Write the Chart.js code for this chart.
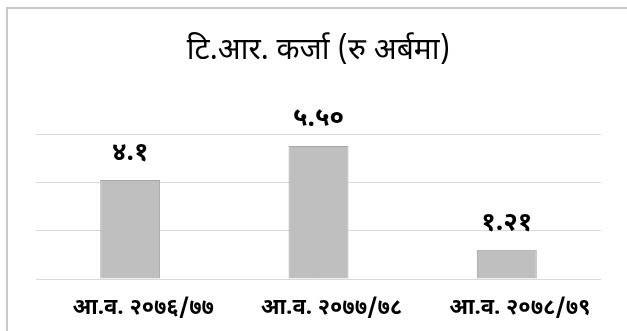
<!DOCTYPE html>
<html>
<head>
<meta charset="utf-8">
<script src="https://cdn.jsdelivr.net/npm/chart.js@4/dist/chart.umd.min.js"></script>
<style>
  html, body { margin: 0; padding: 0; background: #fff; overflow: hidden; width: 627px; height: 331px; }
  #frame { position: absolute; left: 6px; top: 7px; width: 700px; height: 400px; border: 2px solid #c8c8c8; box-sizing: border-box; }
  #wrap { position: absolute; left: 0; top: 0; width: 627px; height: 331px; }
</style>
</head>
<body>
<div id="frame"></div>
<div id="wrap"><canvas id="c" width="627" height="331"></canvas></div>
<script>
const categories = ["आ.व. २०७६/७७", "आ.व. २०७७/७८", "आ.व. २०७८/७९"];
const values = [4.1, 5.5, 1.21];
const valueLabels = ["४.१", "५.५०", "१.२१"];
const titleText = "टि.आर. कर्जा (रु अर्बमा)";

const FONT = "'Noto Sans Devanagari', 'Lohit Devanagari', 'Mangal', 'FreeSans', 'Noto Sans', sans-serif";

const valueLabelPlugin = {
  id: 'valueLabels',
  afterDatasetsDraw(chart) {
    const ctx = chart.ctx;
    const meta = chart.getDatasetMeta(0);
    ctx.save();
    ctx.font = "bold 26px " + FONT;
    ctx.fillStyle = "#000";
    ctx.textAlign = "center";
    ctx.textBaseline = "middle";
    meta.data.forEach((bar, i) => {
      ctx.fillText(valueLabels[i], bar.x, bar.y - 25);
    });
    ctx.restore();
  }
};

new Chart(document.getElementById('c'), {
  type: 'bar',
  data: {
    labels: categories,
    datasets: [{
      data: values,
      backgroundColor: '#bfbfbf',
      borderColor: '#a6a6a6',
      borderWidth: 1,
      barPercentage: 0.318,
      categoryPercentage: 1
    }]
  },
  options: {
    responsive: false,
    animation: false,
    devicePixelRatio: 1,
    layout: { padding: { left: 36, right: 26, top: 0, bottom: 0 } },
    plugins: {
      legend: { display: false },
      tooltip: { enabled: false },
      title: {
        display: true,
        text: titleText,
        color: '#000',
        font: { family: FONT, size: 30, weight: 'normal', lineHeight: 1.2 },
        padding: { top: 35, bottom: 63 }
      }
    },
    scales: {
      x: {
        grid: { display: false },
        border: { display: false },
        afterFit(scale) { scale.height = 52; },
        ticks: {
          color: '#000',
          font: { family: FONT, size: 22, weight: 'bold', lineHeight: 1.2 },
          padding: 10,
          labelOffset: 13,
          maxRotation: 0,
          autoSkip: false
        }
      },
      y: {
        min: 0,
        max: 6,
        ticks: { display: false, stepSize: 2 },
        grid: { color: '#d9d9d9', lineWidth: 1, drawTicks: false },
        border: { display: false }
      }
    }
  },
  plugins: [valueLabelPlugin]
});
</script>
</body>
</html>
